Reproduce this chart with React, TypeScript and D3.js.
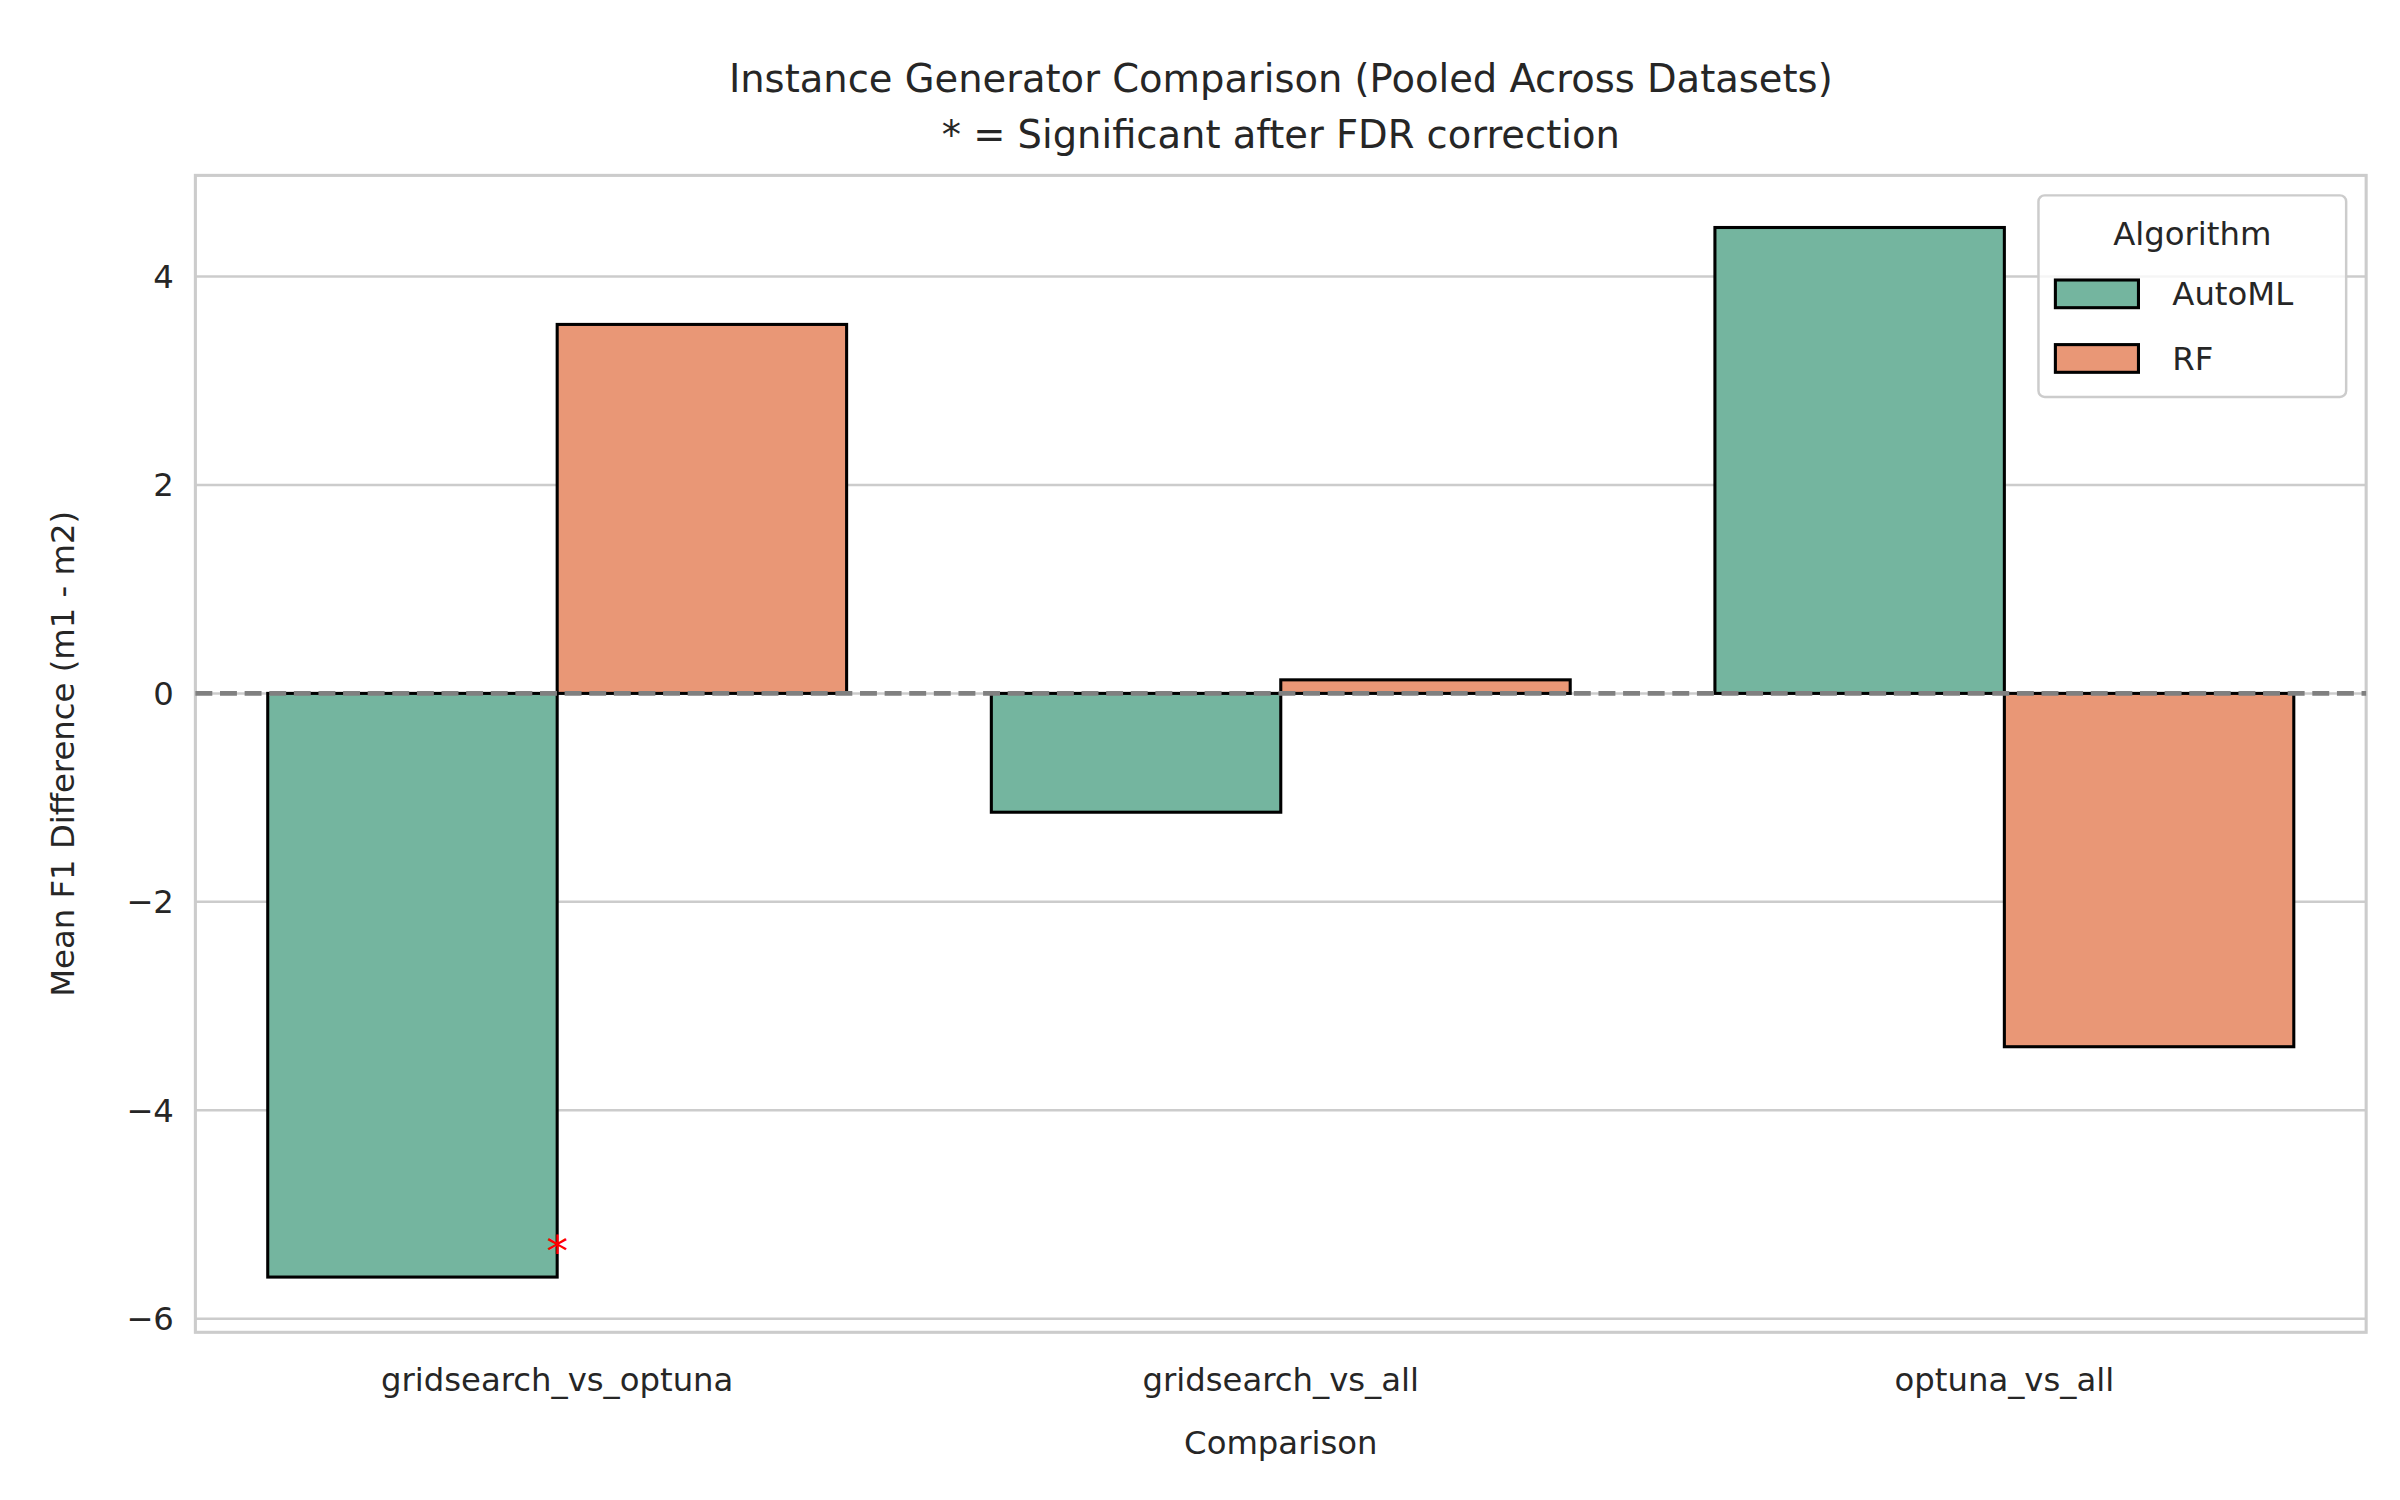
import * as React from 'react'
import * as d3 from 'd3'

const categories = ['gridsearch_vs_optuna', 'gridsearch_vs_all', 'optuna_vs_all']
const algorithms = ['AutoML', 'RF']
const automlValues = [-5.6, -1.14, 4.47]
const rfValues = [3.54, 0.13, -3.39]
const significant = [{ category: 'gridsearch_vs_optuna', value: -5.2 }]
const yTicks = [-6, -4, -2, 0, 2, 4]
const colors = ['#74b59f', '#e99776']

const W = 1560
const H = 975
const m = { left: 127, right: 1538, top: 114, bottom: 866 }
const font = 'DejaVu Sans, sans-serif'

const App = () => {
  const x = d3.scaleBand().domain(categories).range([m.left, m.right]).paddingInner(0.2).paddingOuter(0.1)
  const sub = d3.scaleBand().domain(algorithms).range([0, x.bandwidth()])
  const y = d3.scaleLinear().domain([-6.13, 4.97]).range([m.bottom, m.top])
  const series = [automlValues, rfValues]

  return (
    <svg width={2400} height={1500} viewBox={`0 0 ${W} ${H}`} style={{ position: 'absolute', left: 0, top: 0, background: '#fff' }} fontFamily={font}>
      {yTicks.map(t => (
        <g key={t}>
          <line x1={m.left} x2={m.right} y1={y(t)} y2={y(t)} stroke="#cccccc" strokeWidth={1.6} />
          <text x={m.left - 14} y={y(t)} dy="0.35em" textAnchor="end" fontSize={21} fill="#262626">{t < 0 ? '\u2212' + Math.abs(t) : t}</text>
        </g>
      ))}
      <rect x={m.left} y={m.top} width={m.right - m.left} height={m.bottom - m.top} fill="none" stroke="#cccccc" strokeWidth={2} />
      {series.map((vals, si) => vals.map((v, ci) => {
        const x0 = (x(categories[ci]) || 0) + (sub(algorithms[si]) || 0)
        return <rect key={si + '-' + ci} x={x0} width={sub.bandwidth()} y={Math.min(y(v), y(0))} height={Math.abs(y(v) - y(0))} fill={colors[si]} stroke="#000" strokeWidth={2} />
      }))}
      <line x1={m.left} x2={m.right} y1={y(0)} y2={y(0)} stroke="#808080" strokeWidth={3} strokeDasharray="11,5" />
      {significant.map(s => (
        <text key={s.category} x={(x(s.category) || 0) + x.bandwidth() / 2} y={y(s.value)} dy="0.7em" textAnchor="middle" fontSize={28} fill="red">*</text>
      ))}
      {categories.map(c => (
        <text key={c} x={(x(c) || 0) + x.bandwidth() / 2} y={m.bottom + 38} textAnchor="middle" fontSize={21} fill="#262626">{c}</text>
      ))}
      <text x={(m.left + m.right) / 2} y={945} textAnchor="middle" fontSize={21} fill="#262626">Comparison</text>
      <text transform={`translate(48,${(m.top + m.bottom) / 2}) rotate(-90)`} textAnchor="middle" fontSize={21} fill="#262626">Mean F1 Difference (m1 - m2)</text>
      <text x={(m.left + m.right) / 2} y={60} textAnchor="middle" fontSize={25} fill="#262626">Instance Generator Comparison (Pooled Across Datasets)</text>
      <text x={(m.left + m.right) / 2} y={96} textAnchor="middle" fontSize={25} fill="#262626">* = Significant after FDR correction</text>
      <g>
        <rect x={1325} y={127} width={200} height={131} rx={4} fill="#fff" fillOpacity={0.8} stroke="#cccccc" strokeWidth={1.6} />
        <text x={1425} y={159} textAnchor="middle" fontSize={21} fill="#262626">Algorithm</text>
        {algorithms.map((a, i) => (
          <g key={a}>
            <rect x={1336} y={182 + i * 42} width={54} height={18} fill={colors[i]} stroke="#000" strokeWidth={2} />
            <text x={1412} y={191 + i * 42} dy="0.35em" fontSize={21} fill="#262626">{a}</text>
          </g>
        ))}
      </g>
    </svg>
  )
}

export default App
